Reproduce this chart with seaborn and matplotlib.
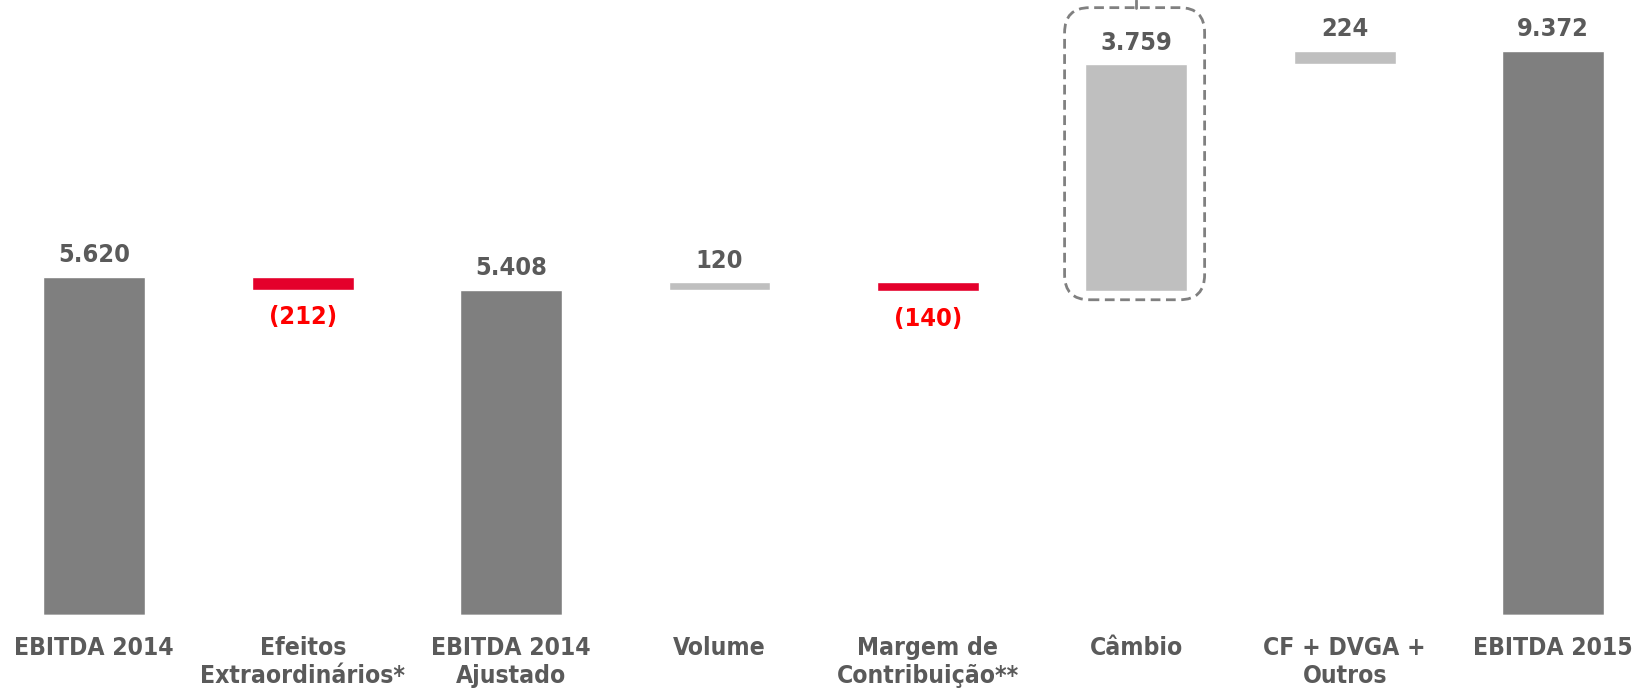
import numpy as np
import pandas as pd
import seaborn as sns
import matplotlib.pyplot as plt
from matplotlib.patches import FancyBboxPatch

categorias = ["EBITDA 2014", "Efeitos\nExtraordinários*", "EBITDA 2014\nAjustado", "Volume",
              "Margem de\nContribuição**", "Câmbio", "CF + DVGA +\nOutros", "EBITDA 2015"]
valores = [5620, -212, 5408, 120, -140, 3759, 224, 9372]
rotulos = ["5.620", "(212)", "5.408", "120", "(140)", "3.759", "224", "9.372"]
tipo = ["total", "delta", "total", "delta", "delta", "delta", "delta", "total"]

# base / topo de cada barra da cascata
base, topo = [], []
nivel = 0
for v, t in zip(valores, tipo):
    if t == "total":
        base.append(0)
        topo.append(v)
        nivel = v
    else:
        novo = nivel + v
        base.append(min(nivel, novo))
        topo.append(max(nivel, novo))
        nivel = novo

cores = []
for v, t in zip(valores, tipo):
    if t == "total":
        cores.append("#7f7f7f")
    elif v < 0:
        cores.append("#e4002b")
    else:
        cores.append("#bfbfbf")

df = pd.DataFrame({"cat": categorias, "base": base, "topo": topo})

sns.set_style("white")
plt.rcParams["font.family"] = ["DejaVu Sans"]

fig = plt.figure(figsize=(16.36, 6.92), dpi=100)
ax = fig.add_axes([0, 76.7 / 692, 1, 615.3 / 692])

larg = 0.489
sns.barplot(data=df, x="cat", y="topo", hue="cat", palette=cores, legend=False,
            width=larg, dodge=False, saturation=1, ax=ax)
sns.barplot(data=df, x="cat", y="base", color="white", width=larg, saturation=1, ax=ax)

ax.set_ylim(0, 10214)
ax.set_xlim(-0.4525, 7.398)
sns.despine(ax=ax, left=True, bottom=True)
ax.set_yticks([])
ax.set_ylabel("")
ax.set_xlabel("")

fonte = dict(family="DejaVu Sans", weight="bold", stretch="condensed")
cinza_txt = "#5a5a5a"
ax.set_xticks(range(len(categorias)))
ax.set_xticklabels(categorias, fontsize=17.7, color=cinza_txt, linespacing=1.22, **fonte)
ax.tick_params(axis="x", length=0, pad=15)

for i, (v, lab) in enumerate(zip(valores, rotulos)):
    if v >= 0:
        ax.annotate(lab, (i, topo[i]), xytext=(0, 10.5), textcoords="offset points",
                    ha="center", va="baseline", fontsize=18.2, color=cinza_txt, **fonte)
    else:
        ax.annotate(lab, (i, base[i]), xytext=(0, -11.5), textcoords="offset points",
                    ha="center", va="top", fontsize=18.2, color="#ff0000", **fonte)

# destaque tracejado em torno de Câmbio
k = categorias.index("Câmbio")
aspecto = 208.4 / 0.06024
y0 = base[k] - 150
y1 = topo[k] + 940
caixa = FancyBboxPatch((k - 0.344, y0), 0.672, y1 - y0,
                       boxstyle="round,pad=0,rounding_size=0.12",
                       mutation_aspect=aspecto, fill=False, edgecolor="#808080",
                       linewidth=2, linestyle=(0, (3.5, 2)), clip_on=False)
ax.add_patch(caixa)
ax.plot([k, k], [y1, 10214], color="#808080", linewidth=2, clip_on=False)

fig.savefig("out.png", dpi=100)
